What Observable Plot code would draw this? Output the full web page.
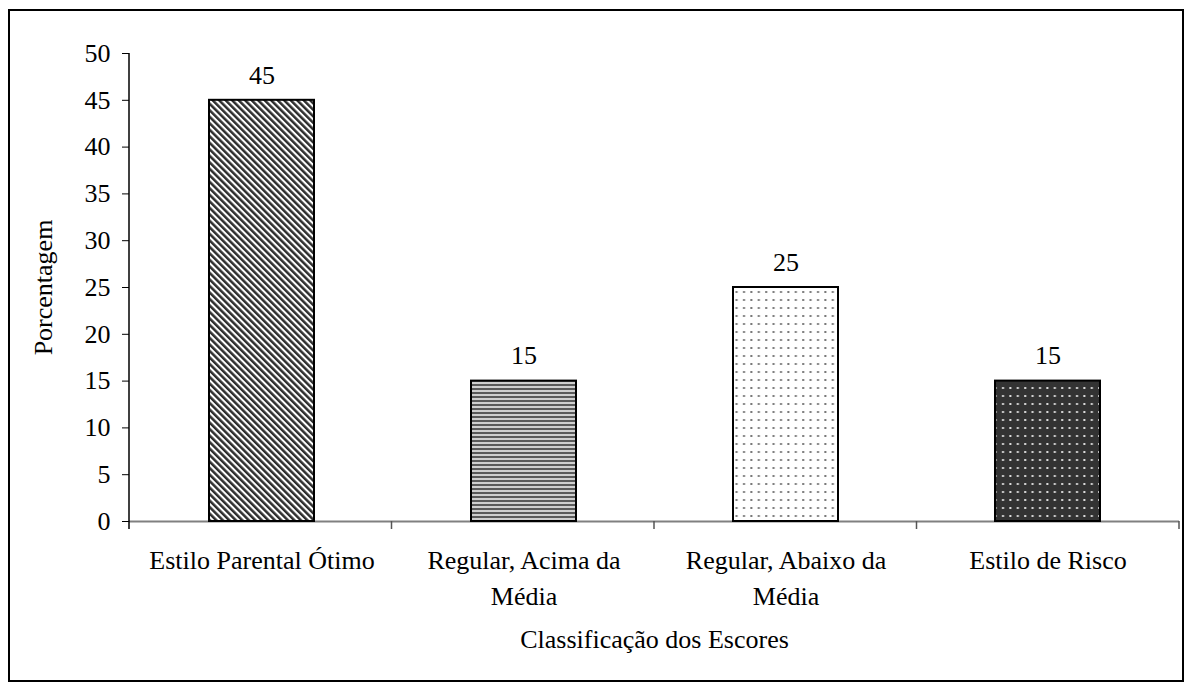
<!DOCTYPE html>
<html>
<head>
<meta charset="utf-8">
<script src="https://cdn.jsdelivr.net/npm/d3@7"></script>
<script src="https://cdn.jsdelivr.net/npm/@observablehq/plot@0.6"></script>
<style>
  html, body { margin: 0; padding: 0; background: #fff; }
  #wrap { position: relative; width: 1186px; height: 684px; }
  #border { position: absolute; left: 8px; top: 9px; right: 2px; bottom: 2px; border: 2px solid #000; pointer-events: none; }
  svg { font-family: "Liberation Serif", "Times New Roman", serif; }
</style>
</head>
<body>
<div id="wrap"><div id="border"></div></div>
<script>
const categories = ["Estilo Parental Ótimo", "Regular, Acima da Média", "Regular, Abaixo da Média", "Estilo de Risco"];
const tickLabels = ["Estilo Parental Ótimo", "Regular, Acima da\nMédia", "Regular, Abaixo da\nMédia", "Estilo de Risco"];
const values = [45, 15, 25, 15];
const patterns = ["pDiag", "pHoriz", "pLightDots", "pDarkDots"];
const yTicks = [0, 5, 10, 15, 20, 25, 30, 35, 40, 45, 50];

const data = categories.map((c, i) => ({cat: c, value: values[i], pat: patterns[i]}));
const labelOf = new Map(categories.map((c, i) => [c, tickLabels[i]]));

const barMarks = data.map(d => Plot.barY([d], {x: "cat", y: "value", fill: `url(#${d.pat})`, stroke: "#000", strokeWidth: 2}));

const FS = 26;

const chart = Plot.plot({
  width: 1186,
  height: 684,
  marginLeft: 129,
  marginRight: 7,
  marginTop: 53,
  marginBottom: 163,
  style: {fontFamily: "'Liberation Serif', 'Times New Roman', serif", fontSize: FS + "px", color: "#000", background: "transparent"},
  x: {domain: categories, paddingInner: 0.6, paddingOuter: 0.3},
  y: {domain: [0, 50]},
  marks: [
    Plot.ruleY([0], {stroke: "#808080", strokeWidth: 2}),
    ...barMarks,
    Plot.text(data, {x: "cat", y: "value", text: d => String(d.value), dy: -25, fontSize: FS, fill: "#000"}),
    Plot.axisY({ticks: yTicks, tickSize: 7, tickPadding: 12, fontSize: FS, label: "Porcentagem", labelAnchor: "center", labelOffset: 96, labelArrow: "none"}),
    Plot.axisX({tickSize: 0, tickPadding: 22, fontSize: FS, lineHeight: 1.38, tickFormat: c => labelOf.get(c), label: "Classificação dos Escores", labelAnchor: "center", labelOffset: 126, labelArrow: "none"})
  ]
});

const svg = d3.select(chart);
const defs = svg.insert("defs", ":first-child");
// diagonal stripes (\)
const p1 = defs.append("pattern").attr("id", "pDiag").attr("patternUnits", "userSpaceOnUse")
  .attr("width", 4.6).attr("height", 4.6).attr("patternTransform", "rotate(-45)");
p1.append("rect").attr("width", 4.6).attr("height", 4.6).attr("fill", "#fff");
p1.append("rect").attr("width", 2.5).attr("height", 4.6).attr("fill", "#2e2e2e");
// horizontal stripes
const p2 = defs.append("pattern").attr("id", "pHoriz").attr("patternUnits", "userSpaceOnUse")
  .attr("width", 8).attr("height", 4);
p2.append("rect").attr("width", 8).attr("height", 4).attr("fill", "#cfcfcf");
p2.append("rect").attr("width", 8).attr("height", 2).attr("fill", "#5a5a5a");
// light dots
const p3 = defs.append("pattern").attr("id", "pLightDots").attr("patternUnits", "userSpaceOnUse")
  .attr("width", 7.4).attr("height", 8);
p3.append("rect").attr("width", 7.4).attr("height", 8).attr("fill", "#fff");
p3.append("rect").attr("x", 3).attr("y", 3).attr("width", 2).attr("height", 2).attr("fill", "#777");
// dark dots
const p4 = defs.append("pattern").attr("id", "pDarkDots").attr("patternUnits", "userSpaceOnUse")
  .attr("width", 7.4).attr("height", 8);
p4.append("rect").attr("width", 7.4).attr("height", 8).attr("fill", "#333");
p4.append("rect").attr("x", 3).attr("y", 3).attr("width", 2).attr("height", 2).attr("fill", "#ddd");

// axis lines and category boundary ticks, from the Plot scales
const xs = chart.scale("x");
const ys = chart.scale("y");
const x0 = xs.range[0], x1 = xs.range[1];
const yTop = ys.apply(50), yZero = ys.apply(0);
const g = svg.append("g");
g.append("line").attr("x1", x0).attr("x2", x0).attr("y1", yTop).attr("y2", yZero + 8).attr("stroke", "#000").attr("stroke-width", 1.5);
const n = categories.length;
for (let i = 1; i <= n; i++) {
  const xb = x0 + (x1 - x0) * i / n;
  g.append("line").attr("x1", xb).attr("x2", xb).attr("y1", yZero).attr("y2", yZero + 8).attr("stroke", "#555").attr("stroke-width", 1.5);
}

document.getElementById("wrap").appendChild(chart);
chart.style.position = "absolute";
chart.style.left = "0";
chart.style.top = "0";
</script>
</body>
</html>
